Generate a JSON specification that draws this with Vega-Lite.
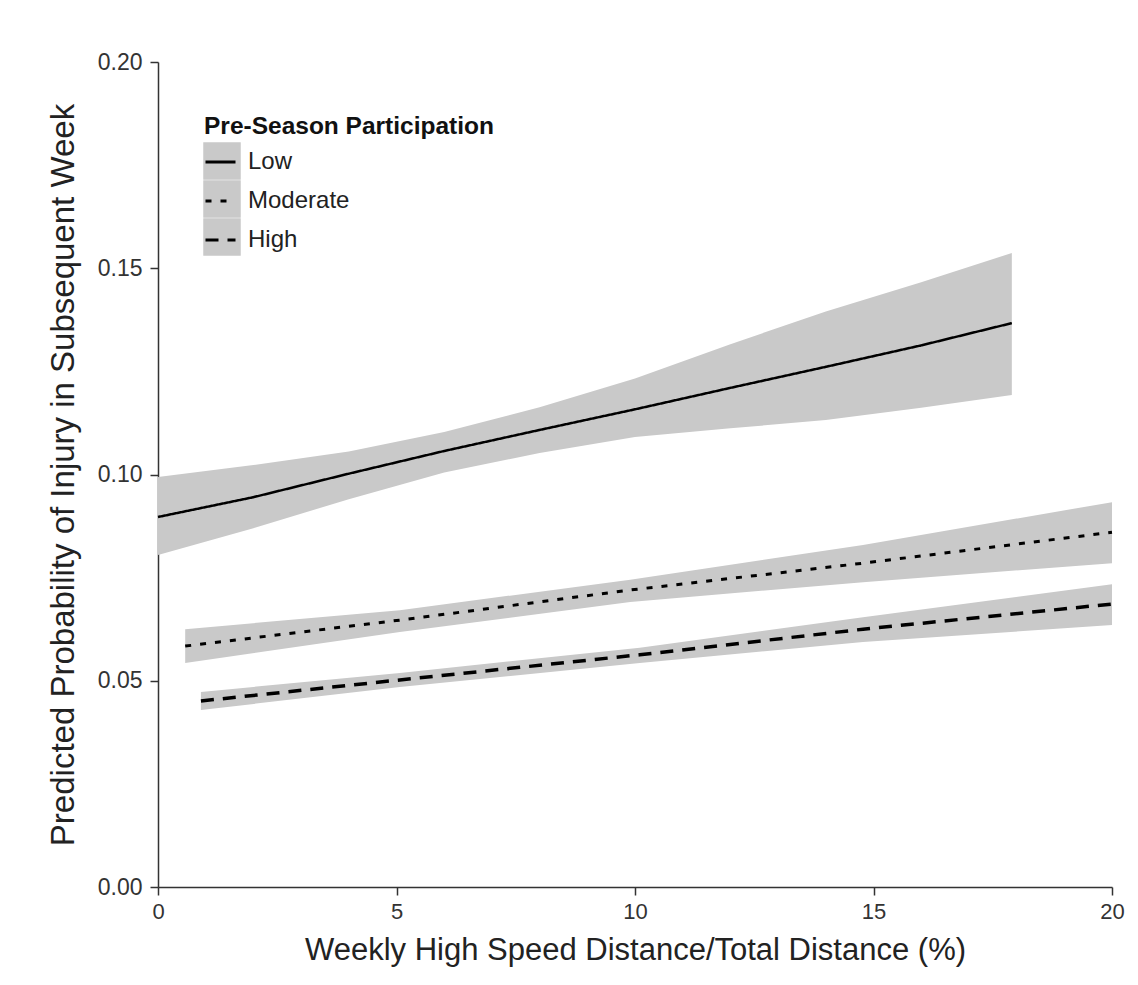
{
  "$schema": "https://vega.github.io/schema/vega-lite/v6.json",
  "width": 954,
  "height": 825,
  "autosize": {"type": "none"},
  "padding": {"left": 158, "top": 62, "right": 26, "bottom": 98},
  "background": "white",
  "config": {
    "font": "Liberation Sans",
    "view": {"stroke": null},
    "axis": {"grid": false}
  },
  "data": {
    "values": [
      {"group": "Low", "x": 0, "fit": 0.0897, "lo": 0.0805, "hi": 0.0994},
      {"group": "Low", "x": 2, "fit": 0.0945, "lo": 0.0870, "hi": 0.1023},
      {"group": "Low", "x": 4, "fit": 0.1002, "lo": 0.0940, "hi": 0.1056},
      {"group": "Low", "x": 6, "fit": 0.1057, "lo": 0.1005, "hi": 0.1103},
      {"group": "Low", "x": 8, "fit": 0.1108, "lo": 0.1052, "hi": 0.1163},
      {"group": "Low", "x": 10, "fit": 0.1158, "lo": 0.1091, "hi": 0.1233},
      {"group": "Low", "x": 12, "fit": 0.1210, "lo": 0.1112, "hi": 0.1316},
      {"group": "Low", "x": 14, "fit": 0.1261, "lo": 0.1132, "hi": 0.1395},
      {"group": "Low", "x": 16, "fit": 0.1313, "lo": 0.1162, "hi": 0.1466},
      {"group": "Low", "x": 17.9, "fit": 0.1367, "lo": 0.1193, "hi": 0.1537},
      {"group": "Moderate", "x": 0.57, "fit": 0.0584, "lo": 0.0543, "hi": 0.0625},
      {"group": "Moderate", "x": 5.07, "fit": 0.0647, "lo": 0.0618, "hi": 0.0671},
      {"group": "Moderate", "x": 9.9, "fit": 0.0720, "lo": 0.0691, "hi": 0.0745},
      {"group": "Moderate", "x": 14.78, "fit": 0.0785, "lo": 0.0739, "hi": 0.0829},
      {"group": "Moderate", "x": 20, "fit": 0.0860, "lo": 0.0785, "hi": 0.0933},
      {"group": "High", "x": 0.9, "fit": 0.0451, "lo": 0.0429, "hi": 0.0473},
      {"group": "High", "x": 5.07, "fit": 0.0502, "lo": 0.0485, "hi": 0.0519},
      {"group": "High", "x": 10.1, "fit": 0.0563, "lo": 0.0543, "hi": 0.0580},
      {"group": "High", "x": 14.78, "fit": 0.0625, "lo": 0.0594, "hi": 0.0654},
      {"group": "High", "x": 20, "fit": 0.0686, "lo": 0.0635, "hi": 0.0734}
    ]
  },
  "encoding": {
    "x": {
      "field": "x",
      "type": "quantitative",
      "scale": {"domain": [0, 20], "nice": false, "zero": false},
      "axis": {
        "title": "Weekly High Speed Distance/Total Distance (%)",
        "values": [0, 5, 10, 15, 20],
        "labelFlush": false,
        "domainColor": "#333333",
        "domainWidth": 1.5,
        "tickColor": "#333333",
        "tickWidth": 1.5,
        "tickSize": 8,
        "labelFontSize": 22,
        "labelColor": "#333333",
        "labelPadding": 6,
        "titleFontSize": 31,
        "titleFontWeight": "normal",
        "titleColor": "#222222",
        "titlePadding": 13
      }
    }
  },
  "layer": [
    {
      "mark": {"type": "area", "opacity": 1},
      "encoding": {
        "y": {
          "field": "lo",
          "type": "quantitative",
          "scale": {"domain": [0, 0.2], "nice": false},
          "axis": {
            "title": "Predicted Probability of Injury in Subsequent Week",
            "values": [0, 0.05, 0.1, 0.15, 0.2],
            "format": ".2f",
            "domainColor": "#333333",
            "domainWidth": 1.5,
            "tickColor": "#333333",
            "tickWidth": 1.5,
            "tickSize": 8,
            "labelFontSize": 23,
            "labelColor": "#333333",
            "labelPadding": 8,
            "titleFontSize": 33,
            "titleFontWeight": "normal",
            "titleColor": "#222222",
            "titlePadding": 17
          }
        },
        "y2": {"field": "hi"},
        "detail": {"field": "group"},
        "fill": {
          "field": "group",
          "type": "nominal",
          "scale": {"range": ["#c9c9c9"]},
          "legend": {
            "orient": "none",
            "legendX": 45,
            "legendY": 80,
            "title": null,
            "symbolType": "square",
            "symbolSize": 1406,
            "symbolStrokeWidth": 0,
            "symbolOpacity": 1,
            "symbolFillColor": "#c9c9c9",
            "labelExpr": "''",
            "labelOffset": 0,
            "padding": 0,
            "rowPadding": 0,
            "zindex": 0
          }
        }
      }
    },
    {
      "transform": [{"filter": "datum.group === 'Low'"}],
      "mark": {"type": "line", "color": "black", "strokeWidth": 2.5},
      "encoding": {
        "y": {"field": "fit", "type": "quantitative"},
        "strokeDash": {
          "field": "group",
          "type": "nominal",
          "scale": {"domain": ["Low", "Moderate", "High"], "range": [[1, 0], [6, 9], [13, 9]]},
          "legend": {
            "orient": "none",
            "legendX": 46,
            "legendY": 53,
            "title": "Pre-Season Participation",
            "titleFontSize": 24.5,
            "titleFontWeight": "bold",
            "titleColor": "#111111",
            "titleLimit": 500,
            "titlePadding": 6,
            "symbolType": "stroke",
            "symbolSize": 900,
            "symbolStrokeWidth": 3,
            "symbolStrokeColor": "black",
            "labelFontSize": 24,
            "labelColor": "#222222",
            "labelOffset": 11,
            "labelLimit": 300,
            "rowPadding": 10,
            "padding": 0,
            "zindex": 1
          }
        }
      }
    },
    {
      "transform": [{"filter": "datum.group === 'Moderate'"}],
      "mark": {"type": "line", "color": "black", "strokeWidth": 3},
      "encoding": {
        "y": {"field": "fit", "type": "quantitative"},
        "strokeDash": {"field": "group", "type": "nominal"}
      }
    },
    {
      "transform": [{"filter": "datum.group === 'High'"}],
      "mark": {"type": "line", "color": "black", "strokeWidth": 3.5},
      "encoding": {
        "y": {"field": "fit", "type": "quantitative"},
        "strokeDash": {"field": "group", "type": "nominal"}
      }
    }
  ]
}
